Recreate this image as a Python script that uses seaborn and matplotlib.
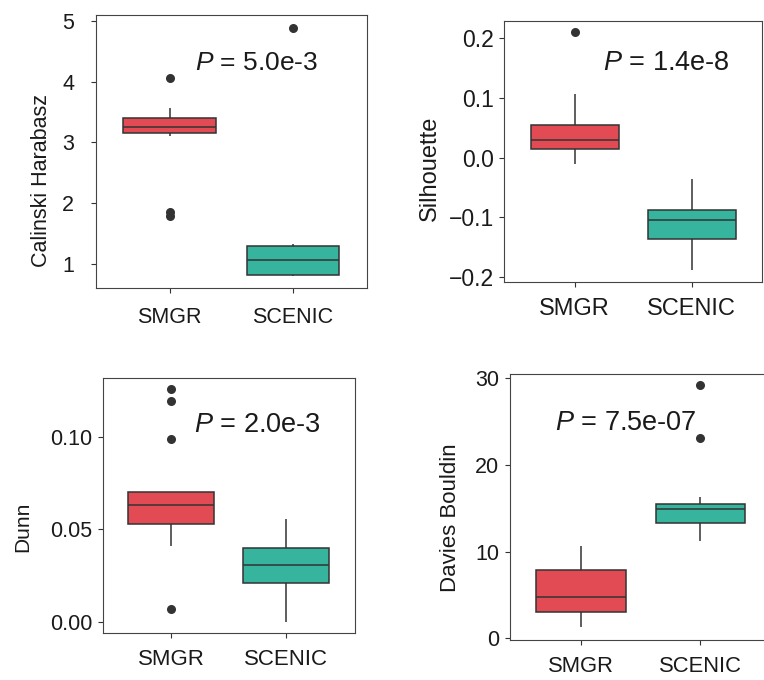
import numpy as np
import pandas as pd
import matplotlib
matplotlib.use("Agg")
import matplotlib.pyplot as plt
import seaborn as sns

# methods compared in every panel
METHODS = ["SMGR", "SCENIC"]
COLORS = {"SMGR": "#E24B53", "SCENIC": "#37B49E"}

# per-method scores (quartiles, whiskers, outliers)
ch_smgr = [1.79, 1.85, 3.105, 3.155, 3.18, 3.22, 3.26, 3.30, 3.36, 3.41, 3.47, 3.56, 4.06]
ch_scenic = [0.80, 0.81, 0.815, 0.82, 0.90, 0.98, 1.06, 1.14, 1.22, 1.30, 1.31, 1.33, 4.89]

sil_smgr = [-0.0105, -0.002, 0.008, 0.0147, 0.020, 0.025, 0.0298, 0.036, 0.045, 0.054, 0.075, 0.106, 0.2106]
sil_scenic = [-0.189, -0.165, -0.150, -0.1374, -0.125, -0.115, -0.1055, -0.100, -0.094, -0.0887, -0.070, -0.052, -0.0362]

dunn_smgr = [0.0072, 0.0413, 0.045, 0.050, 0.0528, 0.055, 0.058, 0.061, 0.0634, 0.066, 0.068, 0.069,
             0.0701, 0.0705, 0.0989, 0.1196, 0.126]
dunn_scenic = [0.0002, 0.008, 0.015, 0.0213, 0.025, 0.028, 0.031, 0.034, 0.037, 0.040, 0.045, 0.050, 0.0557]

db_smgr = [1.27, 2.0, 2.6, 3.08, 3.7, 4.3, 4.81, 5.6, 6.8, 7.88, 8.6, 9.5, 10.6]
db_scenic = [11.19, 12.0, 12.6, 13.0, 13.35, 13.8, 14.2, 14.6, 14.96, 15.1, 15.25, 15.4, 15.54, 15.9,
             16.27, 23.15, 29.19]

# p-value labels
p_labels = ["5.0e-3", "1.4e-8", "2.0e-3", "7.5e-07"]
y_names = ["Calinski Harabasz", "Silhouette", "Dunn", "Davies Bouldin"]

sns.set_theme(style="ticks")
plt.rcParams["font.family"] = ["Liberation Sans", "DejaVu Sans"]
plt.rcParams["mathtext.fontset"] = "custom"
plt.rcParams["mathtext.it"] = "Liberation Sans:italic"
plt.rcParams["mathtext.rm"] = "Liberation Sans"

LINE = "#333333"
TXT = "#1a1a1a"


def make_df(a, b):
    return pd.DataFrame({
        "method": ["SMGR"] * len(a) + ["SCENIC"] * len(b),
        "value": list(a) + list(b),
    })


panels = [
    # data, axes rect, ylim, yticks, tick fmt, fonts (ytick, xtick, ylab, p), ylabel coords, p text pos, pads
    dict(df=make_df(ch_smgr, ch_scenic), rect=[0.1253, 0.576, 0.3547, 0.4019],
         ylim=(0.595, 5.1), yticks=[1, 2, 3, 4, 5], fmt="{:.0f}",
         fs=(15.5, 15.5, 15.5, 19), lab=(-0.16, 0.394), ptxt=(0.366, 0.824), pad=(12, 10)),
    dict(df=make_df(sil_smgr, sil_scenic), rect=[0.6601, 0.5857, 0.3373, 0.3838],
         ylim=(-0.2084, 0.2295), yticks=[-0.2, -0.1, 0.0, 0.1, 0.2], fmt="{:.1f}",
         fs=(16.5, 17, 17, 19.5), lab=(-0.245, 0.436), ptxt=(0.382, 0.837), pad=(4, 8)),
    dict(df=make_df(dunn_smgr, dunn_scenic), rect=[0.1344, 0.0687, 0.3302, 0.3759],
         ylim=(-0.0061, 0.132), yticks=[0.0, 0.05, 0.10], fmt="{:.2f}",
         fs=(15.5, 16, 15, 19.5), lab=(-0.278, 0.415), ptxt=(0.363, 0.815), pad=(4, 8)),
    dict(df=make_df(db_smgr, db_scenic), rect=[0.6671, 0.0593, 0.3432, 0.3912],
         ylim=(-0.16, 30.53), yticks=[0, 10, 20, 30], fmt="{:.0f}",
         fs=(15.5, 15.8, 16, 19.5), lab=(-0.187, 0.4575), ptxt=(0.174, 0.814), pad=(4, 8)),
]

fig = plt.figure(figsize=(7.64, 6.80), dpi=100)

for i, p in enumerate(panels):
    ax = fig.add_axes(p["rect"])
    sns.boxplot(
        data=p["df"], x="method", y="value", hue="method", order=METHODS,
        palette=COLORS, saturation=1, width=0.75, linecolor=LINE, linewidth=1.1,
        showcaps=False, legend=False, ax=ax,
        flierprops=dict(marker="o", markersize=6.5, markerfacecolor=LINE,
                        markeredgecolor=LINE, markeredgewidth=0),
    )
    ax.set_xlim(-0.6, 1.6)
    ax.set_ylim(*p["ylim"])
    ax.set_yticks(p["yticks"])
    ax.set_yticklabels([p["fmt"].format(v).replace("-", "\u2212") for v in p["yticks"]])
    ax.set_xlabel("")
    ax.set_ylabel(y_names[i], fontsize=p["fs"][2], color=TXT)
    ax.yaxis.set_label_coords(p["lab"][0], p["lab"][1])

    for s in ax.spines.values():
        s.set_visible(True)
        s.set_color("#444444")
        s.set_linewidth(0.8)
    ax.tick_params(axis="y", labelsize=p["fs"][0], length=3.6, width=0.8,
                   color=LINE, labelcolor=TXT, pad=p["pad"][0])
    ax.tick_params(axis="x", labelsize=p["fs"][1], length=3.6, width=0.8,
                   color=LINE, labelcolor=TXT, pad=p["pad"][1])

    ax.text(p["ptxt"][0], p["ptxt"][1], r"$\mathit{P}$ = " + p_labels[i],
            transform=ax.transAxes, ha="left", va="center",
            fontsize=p["fs"][3], color=TXT)

fig.savefig("out.png", dpi=100)
